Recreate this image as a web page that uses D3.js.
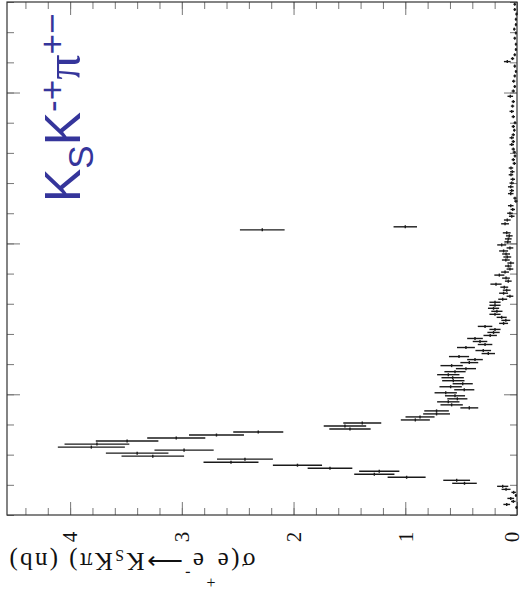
<!DOCTYPE html>
<html><head><meta charset="utf-8">
<script src="https://cdn.jsdelivr.net/npm/d3@7/dist/d3.min.js"></script>
<style>body{margin:0;background:#fff}svg{display:block}</style>
</head><body>
<svg id="c" width="524" height="600"></svg>
<script>
// ---- data (energy in GeV, cross section in nb) ----
const energy = [
1.25,1.27,1.29,1.31,1.33,1.35,1.37,1.39,1.41,1.43,
1.45,1.47,1.49,1.51,1.53,1.55,1.57,1.59,1.61,1.63,
1.65,1.67,1.69,1.71,1.73,1.75,1.77,1.79,1.81,1.83,
1.85,1.87,1.89,1.91,1.93,1.95,1.97,1.99,2.01,2.03,
2.05,2.07,2.09,2.11,2.13,2.15,2.17,2.19,2.21,2.23,
2.25,2.27,2.29,2.31,2.33,2.35,2.37,2.39,2.41,2.43,
2.45,2.47,2.49,2.51,2.53,2.55,2.57,2.59,2.61,2.63,
2.65,2.67,2.69,2.71,2.73,2.75,2.77,2.79,2.81,2.83,
2.85,2.87,2.89,2.91,2.93,2.95,2.97,2.99,3.01,3.03,
3.05,3.07,3.09,3.11,3.13,
3.155,3.18,3.20,3.225,3.25,3.28,3.30,3.33,3.35,3.375,3.40,3.425,3.455,3.475,3.50,3.53,3.555,3.58,3.605,3.625,3.655,3.675,3.70,3.72,3.75,3.775,3.80,
3.84,3.875,3.91,3.94,3.975,4.01,4.04,4.075,4.11,4.14,4.175,4.205,4.225,4.25,4.285,4.32,4.36,4.395,4.42,4.45,4.485,4.52,4.55,4.585
];
const sigma = [
0.005,0.092,0.033,0.056,0.01,0.03,0.098,0.128,0.47,0.54,
0.988,1.277,1.233,1.674,1.965,2.56,2.435,3.26,3.40,2.98,
3.81,3.76,3.49,3.05,2.69,2.316,1.495,1.54,1.385,0.91,
0.868,0.72,0.72,0.427,0.585,0.615,0.534,0.555,0.638,0.472,
0.594,0.486,0.57,0.576,0.615,0.555,0.457,0.585,0.427,0.376,
0.519,0.257,0.302,0.457,0.286,0.331,0.376,0.24,0.21,0.197,
0.286,0.12,0.10,0.137,0.197,0.18,0.21,0.197,0.197,0.128,
0.063,0.12,0.092,0.114,0.188,0.078,0.098,0.158,0.107,0.063,
0.078,0.056,0.10,0.087,0.098,0.12,0.063,0.137,0.083,0.078,
0.069,0.092,2.28,1.0,0.107,
0.087,0.047,0.063,0.038,0.056,0.01,0.018,0.056,0.047,0.056,0.047,0.038,0.054,0.042,0.054,0.024,0.033,0.018,0.024,0.033,0.047,0.033,0.047,0.033,0.024,0.033,0.018,
0.033,0.047,0.04,0.033,0.06,0.033,0.02,0.03,0.02,0.01,0.02,0.087,0.04,0.02,0.01,0.01,0.02,0.01,0.024,0.01,0.01,0.005,0.02,0.02
];
const sigmaErr = [
0.01,0.03,0.02,0.03,0.01,0.02,0.04,0.05,0.11,0.12,
0.17,0.18,0.18,0.20,0.22,0.246,0.25,0.28,0.28,0.265,
0.30,0.29,0.28,0.26,0.246,0.224,0.185,0.19,0.17,0.13,
0.13,0.12,0.11,0.08,0.10,0.10,0.09,0.09,0.10,0.09,
0.10,0.09,0.10,0.10,0.10,0.095,0.09,0.10,0.08,0.07,
0.09,0.06,0.07,0.08,0.065,0.065,0.07,0.06,0.055,0.05,
0.065,0.04,0.04,0.045,0.05,0.05,0.05,0.05,0.05,0.04,
0.03,0.04,0.035,0.035,0.05,0.03,0.035,0.045,0.035,0.03,
0.03,0.03,0.035,0.035,0.035,0.04,0.03,0.04,0.03,0.03,
0.03,0.035,0.20,0.105,0.035,
0.03,0.025,0.025,0.02,0.025,0.015,0.015,0.025,0.02,0.025,0.02,0.02,0.02,0.02,0.02,0.015,0.015,0.012,0.015,0.015,0.02,0.015,0.02,0.015,0.012,0.015,0.012,
0.015,0.02,0.015,0.015,0.025,0.015,0.012,0.015,0.012,0.01,0.012,0.03,0.015,0.012,0.01,0.01,0.012,0.01,0.012,0.01,0.01,0.01,0.012,0.012
];
const sigmaTicks = [0, 1, 2, 3, 4];
const sigmaTickLabels = ["0", "1", "2", "3", "4"];
const energyMajorTicks = [2, 3, 4];

// ---- layout ----
const svg = d3.select("#c");
svg.append("rect").attr("width", 524).attr("height", 600).attr("fill", "#fff");

const x = d3.scaleLinear().domain([0, 4.565]).range([517, 7]);   // cross section (horizontal, reversed)
const y = d3.scaleLinear().domain([1.2, 4.6]).range([515, 2]);    // energy (vertical)

const sigmaMinor = d3.range(0, 4.55, 0.2).map(v => +v.toFixed(2));
const energyMinor = d3.range(1.2, 4.61, 0.2).map(v => +v.toFixed(2));

function styleAxis(g) {
  g.select(".domain").remove();
  g.selectAll(".tick line").attr("stroke", "#777").attr("stroke-width", 1);
  g.selectAll(".tick text").remove();
}
// bottom
svg.append("g").attr("transform", "translate(0,515)")
  .call(d3.axisTop(x).tickValues(sigmaMinor).tickSize(7).tickFormat("")).call(styleAxis);
svg.append("g").attr("transform", "translate(0,515)")
  .call(d3.axisTop(x).tickValues(sigmaTicks).tickSize(13).tickFormat("")).call(styleAxis);
// top
svg.append("g").attr("transform", "translate(0,2)")
  .call(d3.axisBottom(x).tickValues(sigmaMinor).tickSize(7).tickFormat("")).call(styleAxis);
svg.append("g").attr("transform", "translate(0,2)")
  .call(d3.axisBottom(x).tickValues(sigmaTicks).tickSize(13).tickFormat("")).call(styleAxis);
// left
svg.append("g").attr("transform", "translate(7,0)")
  .call(d3.axisRight(y).tickValues(energyMinor).tickSize(7).tickFormat("")).call(styleAxis);
svg.append("g").attr("transform", "translate(7,0)")
  .call(d3.axisRight(y).tickValues(energyMajorTicks).tickSize(13).tickFormat("")).call(styleAxis);
// right
svg.append("g").attr("transform", "translate(517,0)")
  .call(d3.axisLeft(y).tickValues(energyMinor).tickSize(7).tickFormat("")).call(styleAxis);
svg.append("g").attr("transform", "translate(517,0)")
  .call(d3.axisLeft(y).tickValues(energyMajorTicks).tickSize(13).tickFormat("")).call(styleAxis);

// frame
svg.append("rect").attr("x", 7).attr("y", 2).attr("width", 510).attr("height", 513)
  .attr("fill", "none").attr("stroke", "#333").attr("stroke-width", 1.2);

// tick labels (rotated)
svg.append("g").selectAll("text").data(sigmaTicks).join("text")
  .attr("transform", d => `translate(${Math.min(x(d), 512)},537) rotate(-90)`)
  .attr("text-anchor", "middle").attr("dy", "0.35em")
  .attr("font-family", "'Liberation Serif','Times New Roman',serif")
  .attr("font-size", 21).attr("fill", "#111")
  .text((d, i) => sigmaTickLabels[i]);

// axis title (upside down)
const title = svg.append("text")
  .attr("transform", "translate(7,553) rotate(180)")
  .attr("text-anchor", "end")
  .attr("font-family", "'Liberation Serif','Times New Roman',serif")
  .attr("font-size", 25).attr("fill", "#111");
title.append("tspan").text("σ(e");
title.append("tspan").attr("font-size", 16).attr("dy", -24).text("+");
title.append("tspan").attr("dy", 24).text("e");
title.append("tspan").attr("font-size", 16).attr("dy", -15).text("-");
title.append("tspan").attr("dy", 15).text("⟶K");
title.append("tspan").attr("font-size", 16).attr("dy", 3).text("S");
title.append("tspan").attr("dy", -3).text("Kπ) (nb)");
// widen letter spacing so the title spans the same length as in the reference
(function fit() {
  const target = 246;
  const w = title.node().getComputedTextLength();
  const n = title.text().length;
  if (w < target && n > 1) title.attr("letter-spacing", ((target - w) / (n - 1)).toFixed(2));
})();

// channel label
const lab = svg.append("text")
  .attr("transform", "translate(80,202) rotate(-90)")
  .attr("font-family", "'Liberation Sans',Arial,sans-serif")
  .attr("font-size", 50).attr("fill", "#35359b");
lab.append("tspan").text("K");
lab.append("tspan").attr("font-size", 35).attr("dy", 13).text("S");
lab.append("tspan").attr("dy", -13).text("K");
lab.append("tspan").attr("font-size", 35).attr("dy", -16).text("-+");
lab.append("tspan").attr("dy", 16).attr("font-family", "'Liberation Serif',serif").text("π");
lab.append("tspan").attr("font-size", 35).attr("dy", -16).text("+−");

// data points with error bars
const pts = energy.map((e, i) => ({ e, s: sigma[i], err: sigmaErr[i] }));
const gp = svg.append("g").attr("stroke", "#1a1a1a").attr("stroke-width", 1.4);
gp.selectAll("line.h").data(pts).join("line").attr("class", "h")
  .attr("x1", d => x(d.s - d.err)).attr("x2", d => x(d.s + d.err))
  .attr("y1", d => y(d.e)).attr("y2", d => y(d.e));
gp.selectAll("line.v").data(pts).join("line").attr("class", "v")
  .attr("x1", d => x(d.s)).attr("x2", d => x(d.s))
  .attr("y1", d => y(d.e - 0.01)).attr("y2", d => y(d.e + 0.01));
</script>
</body></html>
